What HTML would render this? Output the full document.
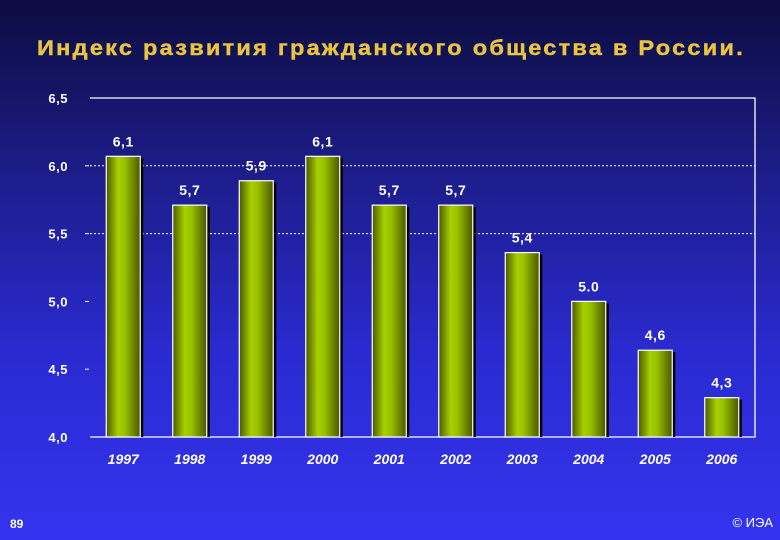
<!DOCTYPE html>
<html><head><meta charset="utf-8"><style>
body{margin:0;width:780px;height:540px;overflow:hidden;background:linear-gradient(#0c0c40 0%,#1e1e90 35%,#2a2ad0 65%,#3434f0 100%);font-family:"Liberation Sans",sans-serif}
svg{position:absolute;left:0;top:0}
</style></head><body>
<svg width="780" height="540">
<defs>
<linearGradient id="bg" x1="0" x2="1" y1="0" y2="0">
<stop offset="0" stop-color="#4a5a00"/><stop offset="0.35" stop-color="#a8d000"/><stop offset="0.55" stop-color="#98c000"/><stop offset="1" stop-color="#4a5800"/>
</linearGradient>
</defs>
<text x="37" y="55" fill="#e8c440" font-size="21" font-weight="bold" stroke="#e8c440" stroke-width="0.4" letter-spacing="2" textLength="708" lengthAdjust="spacingAndGlyphs">Индекс развития гражданского общества в России.</text>
<g id="plot"></g>
<text x="10" y="528" fill="#fff" font-size="12" font-weight="bold">89</text>
<text x="773" y="527" text-anchor="end" fill="#fff" font-size="13">© ИЭА</text>
</svg>
<script>
const categories=["1997","1998","1999","2000","2001","2002","2003","2004","2005","2006"];
const values=[6.07,5.71,5.89,6.07,5.71,5.71,5.36,5.0,4.64,4.29];
const valueLabels=["6,1","5,7","5,9","6,1","5,7","5,7","5,4","5.0","4,6","4,3"];
const ticks=[4.0,4.5,5.0,5.5,6.0,6.5];
const tickLabels=["4,0","4,5","5,0","5,5","6,0","6,5"];
const NS="http://www.w3.org/2000/svg";
const g=document.getElementById('plot');
const X0=90,X1=755,Y0=437,Y1=98,vmin=4,vmax=6.5;
const y=v=>Y0-(v-vmin)/(vmax-vmin)*(Y0-Y1);
const step=(X1-X0)/categories.length;
const xc=i=>X0+step*(i+0.5);
function mk(t,a){const e=document.createElementNS(NS,t);for(const k in a)e.setAttribute(k,a[k]);g.appendChild(e);return e;}
ticks.forEach((t,i)=>{
 const yy=y(t);
 const lb=mk('text',{x:68,y:yy+5,'text-anchor':'end',fill:'#fff','font-size':13,'font-weight':'bold','letter-spacing':0.5});
 lb.textContent=tickLabels[i];
 
 
 if(t>vmin&&t<vmax){
  const tk=mk('line',{x1:X0-5,x2:X0-1,y1:yy,y2:yy,stroke:'#fff'});
  
  
  if(t>=5.5){
   const gl=mk('line',{x1:X0,x2:X1,y1:yy,y2:yy,stroke:'#fff','stroke-dasharray':'2,2','stroke-width':1});
   
   
  }
 }
});
const fr=mk('path',{d:`M${X0} ${Y1}H${X1}V${Y0}H${X0}`,fill:'none',stroke:'#fff','stroke-width':1.3});


const bw=34;
categories.forEach((c,i)=>{
 const x=xc(i)-bw/2,top=y(values[i]);
 const sh=mk('rect',{x:x+bw,y:top+2,width:3,height:Y0-top-2,fill:'#000'});
 
 
 const b=mk('rect',{x:x,y:top,width:bw,height:Y0-top,fill:'url(#bg)',stroke:'#fff','stroke-width':1.2});
 
 
 const vl=mk('text',{x:xc(i),y:top-10,'text-anchor':'middle',fill:'#fff','font-size':14,'font-weight':'bold','letter-spacing':0.5});
 vl.textContent=valueLabels[i];
 
 
 const xl=mk('text',{x:xc(i),y:464,'text-anchor':'middle',fill:'#fff','font-size':14,'font-weight':'bold','font-style':'italic'});
 xl.textContent=c;
 
 
});
</script>
</body></html>
